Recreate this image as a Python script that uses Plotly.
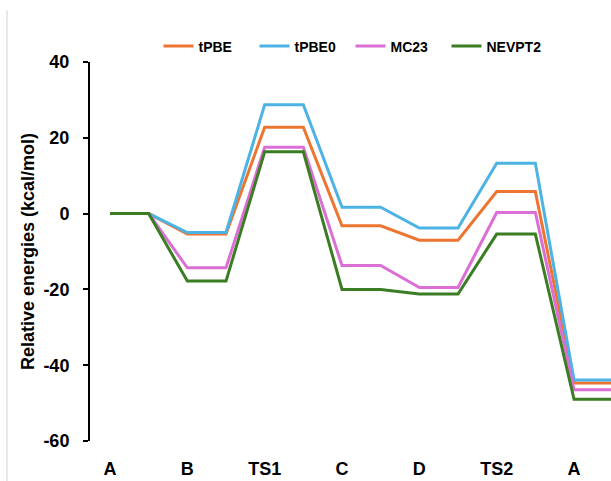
import plotly.graph_objects as go

# Data
states = ["A", "", "B", "", "TS1", "", "C", "", "D", "", "TS2", "", "A", ""]
tick_labels = ["A", "B", "TS1", "C", "D", "TS2", "A"]
y_ticks = [-60, -40, -20, 0, 20, 40]
y_tick_labels = ["-60", "-40", "-20", "0", "20", "40"]
tPBE = [0, 0, -5.4, -5.4, 22.8, 22.8, -3.2, -3.2, -7.0, -7.0, 5.8, 5.8, -44.7, -44.7]
tPBE0 = [0, 0, -5.0, -5.0, 28.7, 28.7, 1.7, 1.7, -3.8, -3.8, 13.3, 13.3, -43.9, -43.9]
MC23 = [0, 0, -14.3, -14.3, 17.5, 17.5, -13.7, -13.7, -19.5, -19.5, 0.3, 0.3, -46.5, -46.5]
NEVPT2 = [0, 0, -17.8, -17.8, 16.3, 16.3, -20.0, -20.0, -21.2, -21.2, -5.4, -5.4, -49.0, -49.0]

series = [
    ("tPBE", tPBE, "#ED7532"),
    ("tPBE0", tPBE0, "#4DB3E4"),
    ("MC23", MC23, "#DC6FD5"),
    ("NEVPT2", NEVPT2, "#3B7D23"),
]

x = list(range(len(states)))

fig = go.Figure()
for name, vals, color in series:
    fig.add_trace(go.Scatter(x=x, y=vals, mode="lines", name=name,
                             line=dict(color=color, width=3)))

FONT = "Liberation Sans, Arial, sans-serif"

fig.update_layout(
    width=611, height=481,
    margin=dict(l=90, r=0, t=62, b=40),
    paper_bgcolor="white", plot_bgcolor="white",
    font=dict(family=FONT, color="black", size=18),
    showlegend=True,
    legend=dict(orientation="h", x=0.5, xanchor="center", y=1.041, yanchor="middle",
                font=dict(family=FONT, size=14, color="black", weight="bold"),
                entrywidth=51, entrywidthmode="pixels",
                bgcolor="rgba(0,0,0,0)"),
    xaxis=dict(range=[-0.517, 12.956], tickmode="array",
               tickvals=[0, 2, 4, 6, 8, 10, 12], ticktext=tick_labels,
               showgrid=False, zeroline=False, showline=False, ticks="",
               tickfont=dict(family=FONT, size=18, color="black", weight="bold"),
               ticklabelstandoff=15),
    yaxis=dict(range=[-60, 40], tickmode="array", tickvals=y_ticks, ticktext=y_tick_labels,
               showgrid=False, zeroline=False, showline=True, linecolor="black",
               linewidth=2, ticks="outside", ticklen=5, tickwidth=2, tickcolor="black",
               tickfont=dict(family=FONT, size=18, color="black", weight="bold"),
               ticklabelstandoff=10,
               title=dict(text="Relative energies (kcal/mol)", standoff=4,
                          font=dict(family=FONT, size=18, color="black", weight="bold"))),
    shapes=[dict(type="line", xref="paper", yref="paper",
                 x0=-0.1593, x1=-0.1593, y0=1.136, y1=-0.2,
                 line=dict(color="#D0D0D0", width=1))],
)

fig.write_html("out.html")
